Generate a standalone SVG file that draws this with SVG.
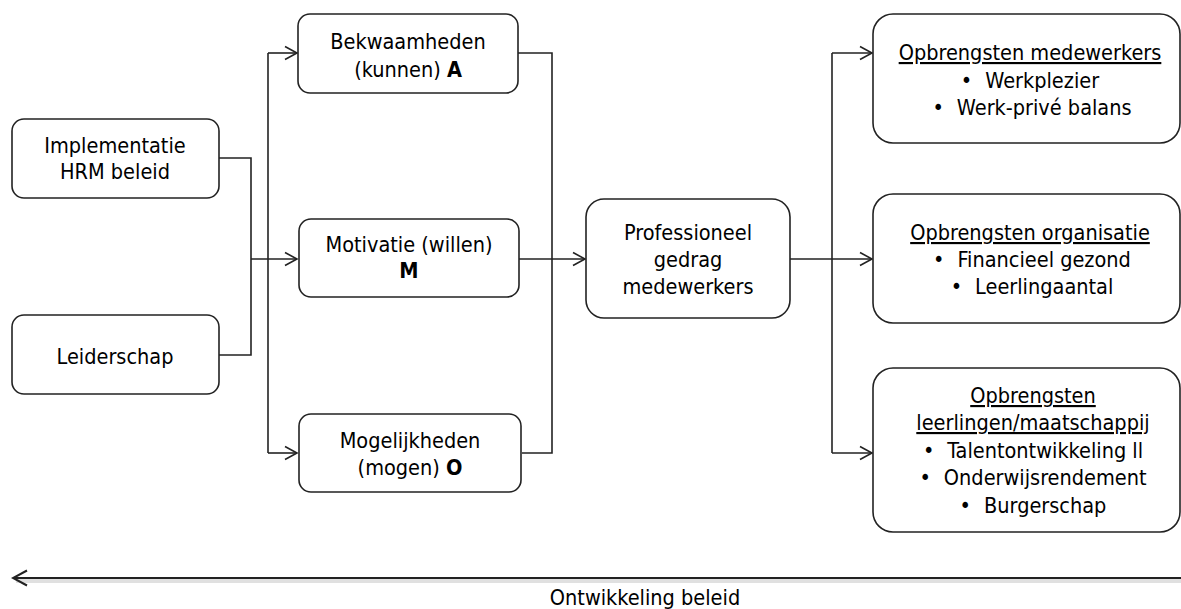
<svg xmlns="http://www.w3.org/2000/svg" width="1181" height="609" viewBox="0 0 1181 609">
<defs>
<style>
text{font-family:"DejaVu Sans Condensed","DejaVu Sans",sans-serif;font-stretch:condensed;font-size:21.5px;fill:#000;text-anchor:middle}
.box{fill:#fff;stroke:#222;stroke-width:1.6}
.c{fill:none;stroke:#222;stroke-width:1.6}
.u{text-decoration:underline}
.b{font-weight:bold}
</style>
<marker id="ah" markerUnits="userSpaceOnUse" markerWidth="16" markerHeight="16" viewBox="-14 -8 16 16" refX="0" refY="0" orient="auto">
<path d="M-12,-6.5 L0,0 L-12,6.5" fill="none" stroke="#222" stroke-width="1.6"/>
</marker>
<marker id="ah2" markerUnits="userSpaceOnUse" markerWidth="18" markerHeight="20" viewBox="-16 -10 18 20" refX="0" refY="0" orient="auto">
<path d="M-14,-7.5 L0,0 L-14,7.5" fill="none" stroke="#222" stroke-width="2"/>
</marker>
</defs>
<g id="connectors">
<path class="c" d="M219,158 H251 V355 H219"/>
<path class="c" d="M251,259 H297" marker-end="url(#ah)"/>
<path class="c" d="M268,453 V53"/>
<path class="c" d="M268,53 H297" marker-end="url(#ah)"/>
<path class="c" d="M268,453 H297" marker-end="url(#ah)"/>
<path class="c" d="M518,53 H552 V453 H522"/>
<path class="c" d="M519,259 H585" marker-end="url(#ah)"/>
<path class="c" d="M790,259 H872" marker-end="url(#ah)"/>
<path class="c" d="M832,453 V53"/>
<path class="c" d="M832,53 H872" marker-end="url(#ah)"/>
<path class="c" d="M832,453 H872" marker-end="url(#ah)"/>
<path d="M1181,581 H16" fill="none" stroke="#000" stroke-opacity="0.12" stroke-width="4"/>
<path d="M1181,578 H13" fill="none" stroke="#222" stroke-width="2" marker-end="url(#ah2)"/>
</g>
<g id="implementatie">
<rect class="box" x="12" y="119" width="207" height="79" rx="12"/>
<text x="115" y="153">Implementatie</text>
<text x="115" y="179">HRM beleid</text>
</g>
<g id="leiderschap">
<rect class="box" x="12" y="315" width="207" height="79" rx="12"/>
<text x="115" y="364">Leiderschap</text>
</g>
<g id="bekwaamheden">
<rect class="box" x="298" y="14" width="220" height="79" rx="12"/>
<text x="408" y="49">Bekwaamheden</text>
<text x="408" y="77">(kunnen) <tspan class="b">A</tspan></text>
</g>
<g id="motivatie">
<rect class="box" x="299" y="219" width="220" height="78" rx="12"/>
<text x="409" y="252">Motivatie (willen)</text>
<text x="409" y="278" class="b">M</text>
</g>
<g id="mogelijkheden">
<rect class="box" x="299" y="414" width="222" height="78" rx="12"/>
<text x="410" y="448">Mogelijkheden</text>
<text x="410" y="475">(mogen) <tspan class="b">O</tspan></text>
</g>
<g id="professioneel">
<rect class="box" x="586" y="199" width="204" height="119" rx="18"/>
<text x="688" y="240">Professioneel</text>
<text x="688" y="267">gedrag</text>
<text x="688" y="294">medewerkers</text>
</g>
<g id="opbrengsten-medewerkers">
<rect class="box" x="873" y="14" width="307" height="129" rx="20"/>
<text x="1030" y="60" class="u">Opbrengsten medewerkers</text>
<text x="1030" y="88"><tspan>•</tspan><tspan dx="13">Werkplezier</tspan></text>
<text x="1032" y="115"><tspan>•</tspan><tspan dx="13">Werk-privé balans</tspan></text>
</g>
<g id="opbrengsten-organisatie">
<rect class="box" x="873" y="194" width="307" height="129" rx="20"/>
<text x="1030" y="240" class="u">Opbrengsten organisatie</text>
<text x="1032" y="267"><tspan>•</tspan><tspan dx="13">Financieel gezond</tspan></text>
<text x="1032" y="294"><tspan>•</tspan><tspan dx="13">Leerlingaantal</tspan></text>
</g>
<g id="opbrengsten-leerlingen">
<rect class="box" x="873" y="368" width="307" height="164" rx="20"/>
<text x="1033" y="403" class="u">Opbrengsten</text>
<text x="1033" y="430" class="u">leerlingen/maatschappij</text>
<text x="1033" y="458"><tspan>•</tspan><tspan dx="13">Talentontwikkeling ll</tspan></text>
<text x="1033" y="485"><tspan>•</tspan><tspan dx="13">Onderwijsrendement</tspan></text>
<text x="1033" y="513"><tspan>•</tspan><tspan dx="13">Burgerschap</tspan></text>
</g>
<g id="ontwikkeling-beleid">
<text x="645" y="605">Ontwikkeling beleid</text>
</g>
</svg>
